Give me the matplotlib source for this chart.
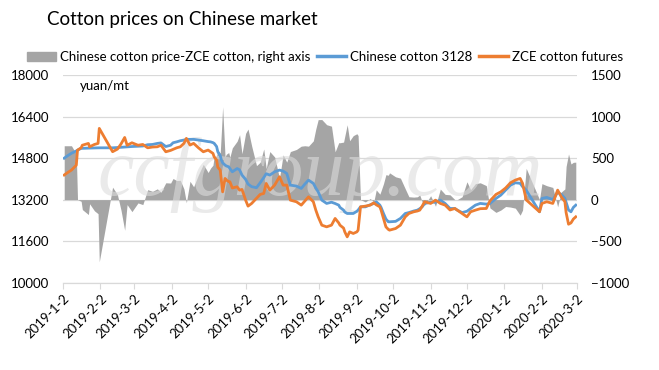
import pandas as pd
import numpy as np
import matplotlib.pyplot as plt

dates = ['2019-01-03', '2019-01-06', '2019-01-09', '2019-01-13', '2019-01-14', '2019-01-17',
         '2019-01-18', '2019-01-23', '2019-01-24', '2019-01-28', '2019-01-31', '2019-02-01',
         '2019-02-12', '2019-02-16', '2019-02-19', '2019-02-22', '2019-02-24', '2019-02-28',
         '2019-03-05', '2019-03-09', '2019-03-13', '2019-03-17', '2019-03-21', '2019-03-24',
         '2019-03-28', '2019-04-01', '2019-04-03', '2019-04-06', '2019-04-09', '2019-04-12',
         '2019-04-14', '2019-04-17', '2019-04-20', '2019-04-24', '2019-04-28', '2019-05-02',
         '2019-05-04', '2019-05-06', '2019-05-07', '2019-05-09', '2019-05-10', '2019-05-12',
         '2019-05-13', '2019-05-14', '2019-05-16', '2019-05-17', '2019-05-19', '2019-05-20',
         '2019-05-22', '2019-05-26', '2019-05-28', '2019-05-30', '2019-06-02', '2019-06-04',
         '2019-06-07', '2019-06-11', '2019-06-14', '2019-06-17', '2019-06-19', '2019-06-22',
         '2019-06-26', '2019-06-30', '2019-07-03', '2019-07-06', '2019-07-09', '2019-07-14',
         '2019-07-18', '2019-07-21', '2019-07-24', '2019-07-28', '2019-07-30', '2019-08-01',
         '2019-08-04', '2019-08-08', '2019-08-12', '2019-08-15', '2019-08-18', '2019-08-19',
         '2019-08-22', '2019-08-23', '2019-08-25', '2019-08-27', '2019-08-30', '2019-09-02',
         '2019-09-03', '2019-09-05', '2019-09-09', '2019-09-13', '2019-09-16', '2019-09-18',
         '2019-09-21', '2019-09-22', '2019-09-24', '2019-09-26', '2019-09-28', '2019-09-29',
         '2019-10-04', '2019-10-08', '2019-10-12', '2019-10-15', '2019-10-19', '2019-10-22',
         '2019-10-24', '2019-10-26', '2019-10-28', '2019-11-02', '2019-11-06', '2019-11-10',
         '2019-11-14', '2019-11-18', '2019-11-22', '2019-11-24', '2019-11-28', '2019-12-02',
         '2019-12-05', '2019-12-09', '2019-12-13', '2019-12-18', '2019-12-21', '2019-12-26',
         '2019-12-30', '2020-01-03', '2020-01-07', '2020-01-11', '2020-01-15', '2020-01-17',
         '2020-01-20', '2020-01-31', '2020-02-02', '2020-02-06', '2020-02-11', '2020-02-15',
         '2020-02-18', '2020-02-21', '2020-02-22', '2020-02-24', '2020-02-26', '2020-02-28',
         '2020-03-01']

cotton_3128 = [14800, 14900, 14990, 15080, 15110, 15180,
               15180, 15190, 15190, 15195, 15200, 15200,
               15200, 15210, 15220, 15230, 15240, 15250,
               15260, 15270, 15320, 15330, 15370, 15390,
               15250, 15300, 15395, 15430, 15473, 15500,
               15527, 15527, 15527, 15500, 15473, 15440,
               15430, 15400, 15372, 15250, 15047, 14900,
               14727, 14620, 14533, 14500, 14468, 14400,
               14274, 14400, 14350, 14147, 13980, 13800,
               13700, 13660, 13850, 14050, 14200, 14147,
               14274, 14340, 14300, 14212, 13760, 13722,
               13632, 13800, 13953, 13826, 13650, 13500,
               13180, 13053, 13100, 13050, 12987, 12900,
               12794, 12720, 12665, 12665, 12665, 12750,
               12794, 12921, 12921, 13000, 13053, 13117,
               12987, 12900, 12665, 12450, 12344, 12344,
               12360, 12473, 12665, 12700, 12760, 12794,
               12850, 12921, 13050, 13100, 13100, 13180,
               13050, 12858, 12858, 12794, 12700, 12750,
               12850, 12987, 13053, 13027, 13050, 13246,
               13374, 13567, 13760, 13850, 13830, 13700,
               13567, 12730, 13246, 13285, 13200, 13480,
               13400, 13246, 13100, 12800, 12730, 12900,
               12987]

zce_futures = [14150, 14250, 14340, 14530, 15110, 15200,
               15300, 15370, 15240, 15330, 15370, 15950,
               15050, 15150, 15350, 15600, 15300, 15395,
               15300, 15330, 15200, 15230, 15240, 15300,
               15047, 15100, 15140, 15200, 15240, 15372,
               15565, 15306, 15372, 15200, 15047, 15113,
               15050, 14985, 14850, 14727, 14450, 14340,
               13900, 13500, 14018, 13953, 13900, 13888,
               13650, 13695, 13567, 13593, 13180, 12949,
               13053, 13250, 13400, 13439, 13826, 13567,
               13760, 14082, 13760, 13760, 13180, 13117,
               12987, 13150, 13308, 13117, 12800, 12535,
               12214, 12149, 12214, 12473, 12300, 12214,
               12100, 11955, 11762, 11955, 11893, 11955,
               12021, 12921, 12949, 12987, 13078, 13000,
               12921, 12794, 12473, 12149, 12050, 12021,
               12085, 12214, 12535, 12665, 12730, 12760,
               12794, 12950, 13117, 13053, 13180, 13053,
               12987, 12800, 12858, 12794, 12665, 12535,
               12730, 12794, 12850, 12858, 13150, 13400,
               13500, 13650, 13850, 13953, 14018, 13826,
               13190, 12730, 13053, 13117, 13053, 13567,
               13308, 13117, 12700, 12250, 12300, 12450,
               12535]

tick_labels = ['2019-1-2', '2019-2-2', '2019-3-2', '2019-4-2', '2019-5-2', '2019-6-2',
               '2019-7-2', '2019-8-2', '2019-9-2', '2019-10-2', '2019-11-2', '2019-12-2',
               '2020-1-2', '2020-2-2', '2020-3-2']

x = pd.to_datetime(dates)
spot = np.array(cotton_3128)
fut = np.array(zce_futures)
spread = spot - fut   # Chinese cotton price - ZCE cotton
ticks = pd.to_datetime(tick_labels)

plt.rcParams['font.family'] = ['Lato', 'DejaVu Sans']

fig = plt.figure(figsize=(6.59, 3.70), dpi=100)
ax = fig.add_axes([63/659, 1-282.5/370, 514/659, 207.2/370])
ax2 = ax.twinx()
ax.set_zorder(ax2.get_zorder() + 1)
ax.patch.set_visible(False)

# spread area on the back axes
ax2.fill_between(x, spread, 0, color='#A5A5A5', linewidth=0, zorder=2)
ax2.set_ylim(-1000, 1500)
ax2.set_yticks(np.arange(-1000, 1501, 500))
ax2.grid(axis='y', color='#D9D9D9', linewidth=0.9, zorder=0)
ax2.set_axisbelow(True)
ax2.text(0.5, 0.52, 'ccfgroup.com', transform=ax2.transAxes, ha='center', va='center',
         fontsize=59, family='Liberation Serif', style='italic', color='#dcdcdc',
         alpha=0.6, zorder=3)

ax.plot(x, spot, color='#5B9BD5', linewidth=2.0, label='Chinese cotton 3128')
ax.plot(x, fut, color='#ED7D31', linewidth=2.0, label='ZCE cotton futures')
ax.set_ylim(10000, 18000)
ax.set_yticks(np.arange(10000, 18001, 1600))
ax.set_xlim(pd.Timestamp('2019-01-02'), pd.Timestamp('2020-03-02'))
ax.set_xticks(ticks)
ax.set_xticklabels(tick_labels, rotation=45, ha='right', rotation_mode='anchor')

for a in (ax, ax2):
    for s in ('top', 'left', 'right'):
        a.spines[s].set_visible(False)
    a.spines['bottom'].set_color('#D9D9D9')
    a.tick_params(axis='y', length=0, labelsize=9.5, colors='black', pad=10)
ax.tick_params(axis='x', length=4, color='#D9D9D9', labelsize=9.5, pad=3)

ax.text(0.033, 0.95, 'yuan/mt', transform=ax.transAxes, fontsize=9.5, va='center')

fig.text(47/659, 1-20/370, 'Cotton prices on Chinese market', fontsize=13.5, va='center')

h_area = plt.Rectangle((0, 0), 1, 1, color='#A5A5A5')
h1, = ax.plot([], [], color='#5B9BD5', linewidth=2.5)
h2, = ax.plot([], [], color='#ED7D31', linewidth=2.5)
fig.legend([h_area, h1, h2],
           ['Chinese cotton price-ZCE cotton, right axis', 'Chinese cotton 3128', 'ZCE cotton futures'],
           loc='center', bbox_to_anchor=(325/659, 1-57/370), ncol=3, frameon=False,
           fontsize=9.5, handlelength=2.2, handletextpad=0.3, columnspacing=0.5)

fig.savefig('out.png', dpi=100)
